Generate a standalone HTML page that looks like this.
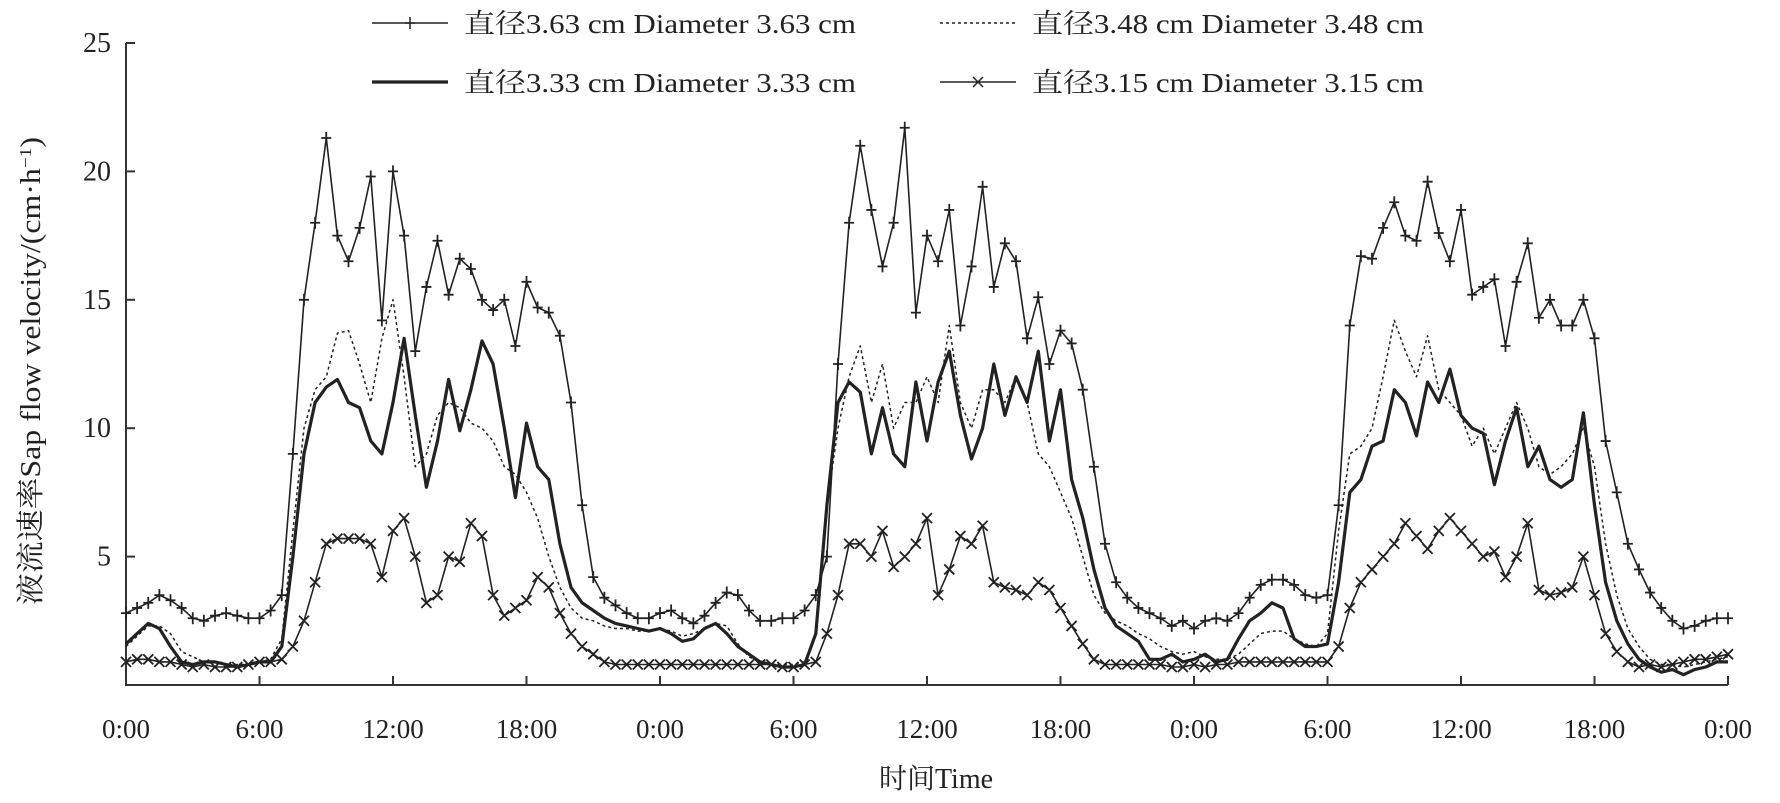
<!DOCTYPE html>
<html><head><meta charset="utf-8">
<style>
html,body{margin:0;padding:0;background:#fff;}
svg{display:block;font-family:"Liberation Serif","Noto Serif CJK SC",serif;}
</style></head>
<body>
<svg id="chart" width="1780" height="803" viewBox="0 0 1780 803">
<g id="axes"></g>
<g id="series"></g>
<g id="legend"></g>
<text x="936" y="788" text-anchor="middle" font-size="28" fill="#222">时间Time</text>
<text transform="translate(40,371) rotate(-90)" text-anchor="middle" font-size="28" fill="#222" textLength="468" lengthAdjust="spacingAndGlyphs">液流速率Sap flow velocity/(cm·h<tspan baseline-shift="super" font-size="17">−1</tspan>)</text>
</svg>
<script>
// hours sampled every 0.5 h, 0..72
const xTickLabels = ["0:00","6:00","12:00","18:00","0:00","6:00","12:00","18:00","0:00","6:00","12:00","18:00","0:00"];
const yTickValues = [5,10,15,20,25];
const seriesNames = ["直径3.63 cm Diameter 3.63 cm","直径3.48 cm Diameter 3.48 cm","直径3.33 cm Diameter 3.33 cm","直径3.15 cm Diameter 3.15 cm"];
const d363 = [2.8,3.0,3.2,3.5,3.3,3.0,2.6,2.5,2.7,2.8,2.7,2.6,2.6,2.9,3.5,9,15,18,21.3,17.5,16.5,17.8,19.8,14.2,20.0,17.5,13,15.5,17.3,15.2,16.6,16.2,15,14.6,15,13.2,15.7,14.7,14.5,13.6,11,7,4.2,3.4,3.1,2.8,2.6,2.6,
2.8,2.9,2.6,2.4,2.7,3.2,3.6,3.5,2.9,2.5,2.5,2.6,2.6,2.9,3.5,5,12.5,18,21,18.5,16.3,18,21.7,14.5,17.5,16.5,18.5,14,16.3,19.4,15.5,17.2,16.5,13.5,15.1,12.5,13.8,13.3,11.5,8.5,5.5,4,3.4,3.0,2.8,2.6,2.3,2.5,
2.2,2.5,2.6,2.5,2.8,3.4,3.9,4.1,4.1,3.9,3.5,3.4,3.5,7,14,16.7,16.6,17.8,18.8,17.5,17.3,19.6,17.6,16.5,18.5,15.2,15.5,15.8,13.2,15.7,17.2,14.3,15,14,14,15,13.5,9.5,7.5,5.5,4.5,3.6,3,2.5,2.2,2.3,2.5,2.6,2.6];
const d348 = [1.5,1.9,2.3,2.3,2.0,1.3,1.1,0.9,0.9,0.8,0.8,0.8,0.9,1.0,1.8,6,10,11.5,12,13.7,13.8,12.5,11,13.5,15,12,8.5,9,10.5,11,10.8,10.2,10,9.5,8.5,8.2,7.5,6.5,5,3.8,3,2.6,2.5,2.3,2.2,2.2,2.1,2.1,
2.2,2.1,1.9,2.0,2.2,2.4,2.3,1.6,1.1,0.9,0.8,0.8,0.8,0.9,2,7,10,12,13.2,11,12.5,10,11,11,12,11,14,11,10,11.5,11.5,11,12,11,9,8.5,7.5,6.5,5,3.5,2.8,2.5,2.3,2.0,1.8,1.5,1.3,1.2,
1.3,1.1,1.0,1.0,1.2,1.6,2.0,2.1,2.1,1.8,1.6,1.5,2,6,9,9.3,10,12,14.2,13,12,13.6,11.5,11,10.5,9.3,10,9,10,11,10,8.5,8.2,8.5,9,10,8.5,5.5,3.5,2.2,1.5,1.0,0.8,0.8,0.7,0.8,0.9,1.0,1.1];
const d333 = [1.6,2.0,2.4,2.2,1.5,0.9,0.8,0.9,0.9,0.8,0.7,0.8,0.9,0.9,1.5,5,9,11,11.6,11.9,11,10.8,9.5,9,11,13.5,10.5,7.7,9.5,11.9,9.9,11.5,13.4,12.5,10,7.3,10.2,8.5,8,5.5,3.8,3.2,2.9,2.6,2.4,2.3,2.2,2.1,
2.2,2.0,1.7,1.8,2.2,2.4,2.0,1.5,1.2,0.9,0.8,0.7,0.7,0.8,2,7,11,11.8,11.4,9,10.8,9,8.5,11.8,9.5,11.8,13,10.5,8.8,10,12.5,10.5,12,11,13,9.5,11.5,8,6.5,4.5,3,2.3,2,1.7,1.0,1.0,1.2,0.9,
1.0,1.2,0.9,1.0,1.8,2.5,2.8,3.2,3.0,1.8,1.5,1.5,1.6,4,7.5,8,9.3,9.5,11.5,11,9.7,11.8,11,12.3,10.5,10,9.8,7.8,9.5,10.8,8.5,9.3,8,7.7,8,10.6,7,4,2.5,1.6,1.0,0.7,0.5,0.6,0.4,0.6,0.7,0.9,0.9];
const d315 = [0.9,1.0,1.0,0.9,0.9,0.8,0.7,0.8,0.7,0.7,0.7,0.8,0.9,0.9,1,1.5,2.5,4,5.5,5.7,5.7,5.7,5.5,4.2,6,6.5,5,3.2,3.5,5,4.8,6.3,5.8,3.5,2.7,3,3.3,4.2,3.8,2.8,2,1.5,1.2,0.9,0.8,0.8,0.8,0.8,
0.8,0.8,0.8,0.8,0.8,0.8,0.8,0.8,0.8,0.8,0.8,0.7,0.7,0.8,0.9,2,3.5,5.5,5.5,5,6,4.6,5,5.5,6.5,3.5,4.5,5.8,5.5,6.2,4,3.8,3.7,3.5,4,3.7,3,2.3,1.6,1.0,0.8,0.8,0.8,0.8,0.8,0.8,0.7,0.7,
0.8,0.7,0.8,0.8,0.9,0.9,0.9,0.9,0.9,0.9,0.9,0.9,0.9,1.5,3,4,4.5,5,5.5,6.3,5.8,5.3,6,6.5,6,5.5,5,5.2,4.2,5,6.3,3.7,3.5,3.6,3.8,5,3.5,2,1.3,0.9,0.7,0.8,0.7,0.8,0.9,1.0,1.0,1.1,1.2];

const NS="http://www.w3.org/2000/svg";
const X0=126,X1=1728,Y0=685,Y25=43;
const xScale=h=>X0+(X1-X0)*h/72;
const yScale=v=>Y0-(Y0-Y25)*v/25;
function mk(tag,attrs,parent){const e=document.createElementNS(NS,tag);for(const k in attrs)e.setAttribute(k,attrs[k]);parent.appendChild(e);return e;}
const axes=document.getElementById('axes');
let ax=mk('path',{d:`M${X0},${Y25}V${Y0}H${X1}`,fill:'none',stroke:'#333','stroke-width':2},axes);


xTickLabels.forEach((l,i)=>{
  const x=xScale(i*6);
  const t=mk('line',{x1:x,x2:x,y1:Y0,y2:Y0-9,stroke:'#333','stroke-width':2},axes);
  
  
  const tx=mk('text',{x:x,y:738,'text-anchor':'middle','font-size':27,fill:'#222'},axes);
  tx.textContent=l;
  
  
});
yTickValues.forEach(v=>{
  const y=yScale(v);
  const t=mk('line',{x1:X0,x2:X0+9,y1:y,y2:y,stroke:'#333','stroke-width':2},axes);
  
  
  const tx=mk('text',{x:111,y:y+9,'text-anchor':'end','font-size':28,fill:'#222'},axes);
  tx.textContent=v;
  
  
});
const sg=document.getElementById('series');
function plus(x,y){return `M${x-5},${y}h10M${x},${y-6}v12`;}
function cross(x,y){return `M${x-5},${y-5}l10,10M${x-5},${y+5}l10,-10`;}
const styles=[
 {data:d363,w:1.6,dash:null,mark:plus,name:'series-3-63cm'},
 {data:d348,w:1.5,dash:'3,3',mark:null,name:'series-3-48cm'},
 {data:d333,w:3.2,dash:null,mark:null,name:'series-3-33cm'},
 {data:d315,w:1.6,dash:null,mark:cross,name:'series-3-15cm'}];
styles.forEach(s=>{
  const pts=s.data.map((v,i)=>[xScale(i*0.5),yScale(v)]);
  const p=mk('path',{d:'M'+pts.map(p=>p[0].toFixed(1)+','+p[1].toFixed(1)).join('L'),fill:'none',stroke:'#222','stroke-width':s.w,'stroke-linejoin':'round'},sg);
  if(s.dash)p.setAttribute('stroke-dasharray',s.dash);
  
  
  if(s.mark){
    const m=mk('path',{d:pts.map(q=>s.mark(q[0],q[1])).join(''),fill:'none',stroke:'#222','stroke-width':1.8},sg);
    
    
  }
});
// legend
const lg=document.getElementById('legend');
const lpos=[[372,23],[940,23],[372,82],[940,82]];
styles.forEach((s,i)=>{
  const [x,y]=lpos[i];
  const l=mk('line',{x1:x,x2:x+76,y1:y,y2:y,stroke:'#222','stroke-width':s.w},lg);
  if(s.dash)l.setAttribute('stroke-dasharray',s.dash);
  
  
  if(s.mark){const m=mk('path',{d:s.mark(x+38,y),fill:'none',stroke:'#222','stroke-width':1.5},lg);
    
    }
  const t=mk('text',{x:x+92,y:y+10,'font-size':27,fill:'#222',textLength:392,lengthAdjust:'spacingAndGlyphs'},lg);
  t.textContent=seriesNames[i];
  
  
});
</script>
</body></html>
